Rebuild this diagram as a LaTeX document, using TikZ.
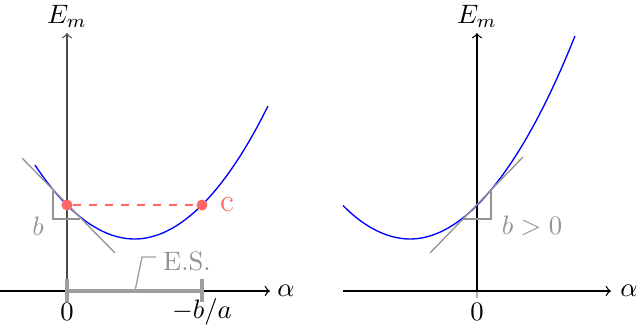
\documentclass[tikz,border=0pt]{standalone}
\usepackage{amsmath}
\usetikzlibrary{positioning, calc}

\begin{document}
\begin{tikzpicture}[
        x=0.375pt, y=-0.375pt,
        axis/.style={->, line width=0.5pt},
        curve/.style={blue, line width=0.5pt},
        tang/.style={gray!85, line width=0.5pt},
        hint/.style={text=gray!85},
        pt/.style={circle, fill=red!60, inner sep=0pt, minimum size=11pt*0.375},
        esbar/.style={gray!75, line width=1.6pt},
    ]
    \useasboundingbox (0,0) rectangle (638,336);

    % =============================================
    % LEFT: b < 0
    % =============================================
    \coordinate (Lx)   at (270,291);
    \coordinate (Ly)   at (67,33);
    \coordinate (Lxs)  at (0,291);
    \coordinate (Lys)  at (67,291);

    \draw[axis] (Lxs) -- (Lx);
    \draw[axis, black!70] (Lys) -- (Ly);
    \node (Lem)    at (67,16)  {$E_m$};
    \node (Lalpha) at (286,291) {$\alpha$};

    \draw[curve] (35,165.1) parabola bend (134.5,239) (268,106);

    % tangent at alpha=0
    \coordinate (Lt1) at (22,158);
    \coordinate (Lt2) at (115,253);
    \draw[tang] (Lt1) -- (Lt2);
    \draw[tang] (53,191) -- (53,219) -- (80,219);
    \node[hint] (Lb) at (38,226) {$b$};

    % root and point c
    \node[pt] (P0) at (67,205) {};
    \node[pt] (Pc) at (202,205) {};
    \draw[red!60, dashed, line width=0.5pt] (P0) -- (Pc);
    \node[text=red!60, right=1pt of Pc, font=\large] (cl) {c};

    % E.S. interval
    \coordinate (Es0) at (67,291);
    \coordinate (Es1) at (202,291);
    \draw[esbar] (Es0) -- (Es1);
    \draw[esbar] (67,279) -- (67,302);
    \draw[esbar] (202,279) -- (202,302);
    \node[hint] (es) at (187,261) {E.S.};
    \draw[gray!75, line width=0.5pt] (135,291) -- (142,257) -- (156,257);

    \node (L0)  at (67,312)  {$0$};
    \node (Lba) at (202,312) {$-b/a$};

    % =============================================
    % RIGHT: b > 0
    % =============================================
    \coordinate (Ro)  at (477,291);
    \coordinate (Rxs) at (343,291);
    \coordinate (Rx)  at (611,291);
    \coordinate (Ry)  at (477,33);

    \draw[gray!60, line width=0.4pt] (Ro) -- (477,298);
    \draw[axis] (Rxs) -- (Rx);
    \draw[axis] (Ro) -- (Ry);
    \node (Rem)    at (477,16)  {$E_m$};
    \node (Ralpha) at (629,291) {$\alpha$};

    \draw[curve] (343,205.5) parabola bend (410,239) (575,36);

    % tangent at alpha=0
    \coordinate (Rt1) at (430,253);
    \coordinate (Rt2) at (523,157);
    \draw[tang] (Rt1) -- (Rt2);
    \draw[tang] (463,219) -- (491,219) -- (491,191);
    \node[hint] (Rb) at (532,226) {$b>0$};

    \node (R0) at (477,312) {$0$};

\end{tikzpicture}
\end{document}
